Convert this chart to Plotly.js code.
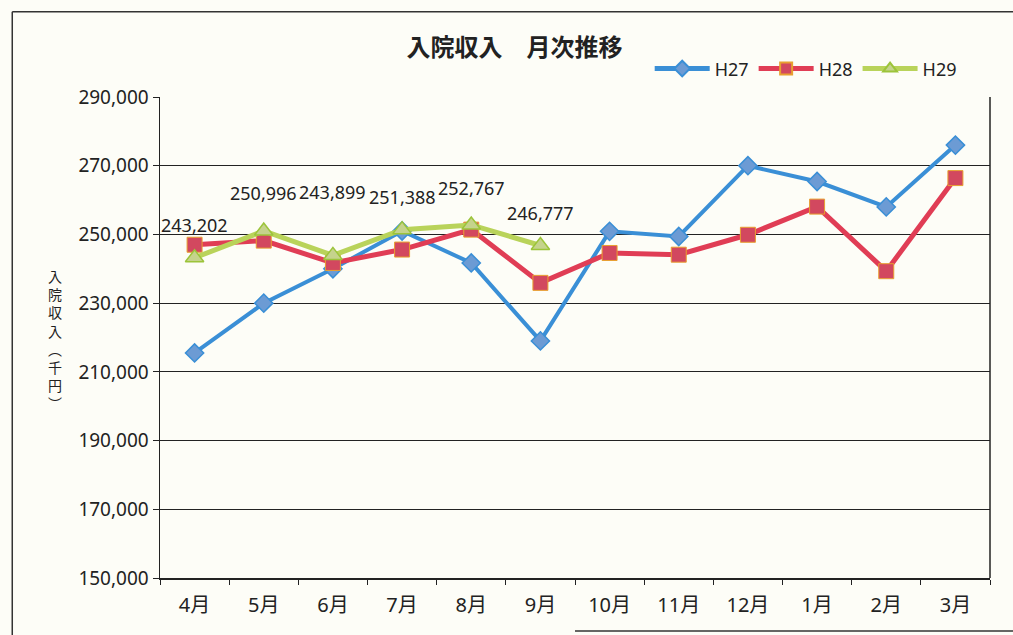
<!DOCTYPE html>
<html>
<head>
<meta charset="utf-8">
<script src="https://cdn.plot.ly/plotly-3.0.1.min.js"></script>
<style>
html,body{margin:0;padding:0;background:#fdfdf7;}
#chart{width:1013px;height:635px;}
</style>
</head>
<body>
<div id="chart"></div>
<script>
const months = ["4月","5月","6月","7月","8月","9月","10月","11月","12月","1月","2月","3月"];
const h27 = [215500, 230000, 240000, 251000, 241700, 219000, 250900, 249400, 270000, 265400, 258000, 276000];
const h28 = [247000, 248200, 241700, 245600, 251400, 235900, 244600, 244100, 249900, 258100, 239300, 266400];
const h29 = [243202, 250996, 243899, 251388, 252767, 246777];
const yTicks = [150000, 170000, 190000, 210000, 230000, 250000, 270000, 290000];
const yTitleChars = ["入","院","収","入","︵","千","円","︶"];

const font = "'Noto Sans CJK JP', 'Noto Sans', sans-serif";
const numFont = "'Noto Sans', 'Noto Sans CJK JP', sans-serif";
const fmt = v => v.toLocaleString('en-US');

const traces = [
  {name:"H27", x:months, y:h27, type:"scatter", mode:"lines+markers",
   line:{color:"#3a8fd6", width:4},
   marker:{symbol:"diamond", size:14, color:"#6c9bd4", line:{color:"#3a8fd6", width:1.5}}},
  {name:"H28", x:months, y:h28, type:"scatter", mode:"lines+markers",
   line:{color:"#e03d55", width:5},
   marker:{symbol:"square", size:15, color:"#d2485f", line:{color:"#e8a030", width:1}}},
  {name:"H29", x:months.slice(0, h29.length), y:h29, type:"scatter", mode:"lines+markers",
   line:{color:"#b9d35a", width:5},
   marker:{symbol:"triangle-up", size:16, color:"#c5d38c", line:{color:"#9cc43a", width:1.5}}}
];

const labelShift = [33, 38, 63, 33, 37, 33];
const annotations = h29.map((v, i) => ({
  x: months[i], y: v, xref:"x", yref:"y", text: fmt(v), showarrow:false,
  yshift: labelShift[i], font:{family:numFont, size:18, color:"#222"}
}));
annotations.push({
  xref:"paper", yref:"paper", x:-0.1265, y:0.495, xanchor:"center", yanchor:"middle",
  text:yTitleChars.join("<br>"), showarrow:false,
  font:{family:font, size:14, color:"#222"}
});

const layout = {
  width:1013, height:635,
  paper_bgcolor:"#fdfdf7", plot_bgcolor:"#fdfdf7",
  margin:{l:160, r:23, t:97, b:57, autoexpand:false},
  title:{text:"<b>入院収入　月次推移</b>", x:0.508, xanchor:"center", y:0.925, yanchor:"middle",
         font:{family:font, size:24, color:"#222"}},
  showlegend:true,
  legend:{orientation:"h", x:0.59, xanchor:"left", y:1.02, yanchor:"bottom",
          font:{family:numFont, size:18, color:"#222"}, bgcolor:"rgba(0,0,0,0)",
          itemwidth:55, tracegroupgap:0, itemsizing:"constant"},
  xaxis:{type:"category", categoryorder:"array", categoryarray:months,
         showline:true, linecolor:"#222", linewidth:1.5, mirror:false,
         ticks:"outside", ticklen:5, tickcolor:"#222", tickson:"boundaries",
         ticklabelstandoff:8, tickangle:0,
         showgrid:false, tickfont:{family:numFont, size:20, color:"#222"},
         range:[-0.5, 11.5]},
  yaxis:{range:[150000, 290000], tickvals:yTicks, ticktext:yTicks.map(fmt),
         showgrid:true, gridcolor:"#222", gridwidth:1.2,
         showline:true, linecolor:"#222", linewidth:1.5,
         ticks:"outside", ticklen:6, tickcolor:"#222", zeroline:false,
         tickfont:{family:numFont, size:19, color:"#222"}},
  annotations: annotations,
  shapes:[
    {type:"line", xref:"paper", yref:"paper", x0:1, x1:1, y0:0, y1:1, line:{color:"#222", width:1.5}},
    {type:"line", xref:"paper", yref:"paper", x0:-0.178, x1:1.028, y0:1.177, y1:1.177, line:{color:"#333", width:1.5}},
    {type:"line", xref:"paper", yref:"paper", x0:-0.178, x1:-0.178, y0:-0.13, y1:1.177, line:{color:"#333", width:1.5}},
    {type:"line", xref:"paper", yref:"paper", x0:0.5, x1:1.028, y0:-0.11, y1:-0.11, line:{color:"#333", width:1.5}}
  ]
};

Plotly.newPlot("chart", traces, layout, {displayModeBar:false, staticPlot:true});
</script>
</body>
</html>
